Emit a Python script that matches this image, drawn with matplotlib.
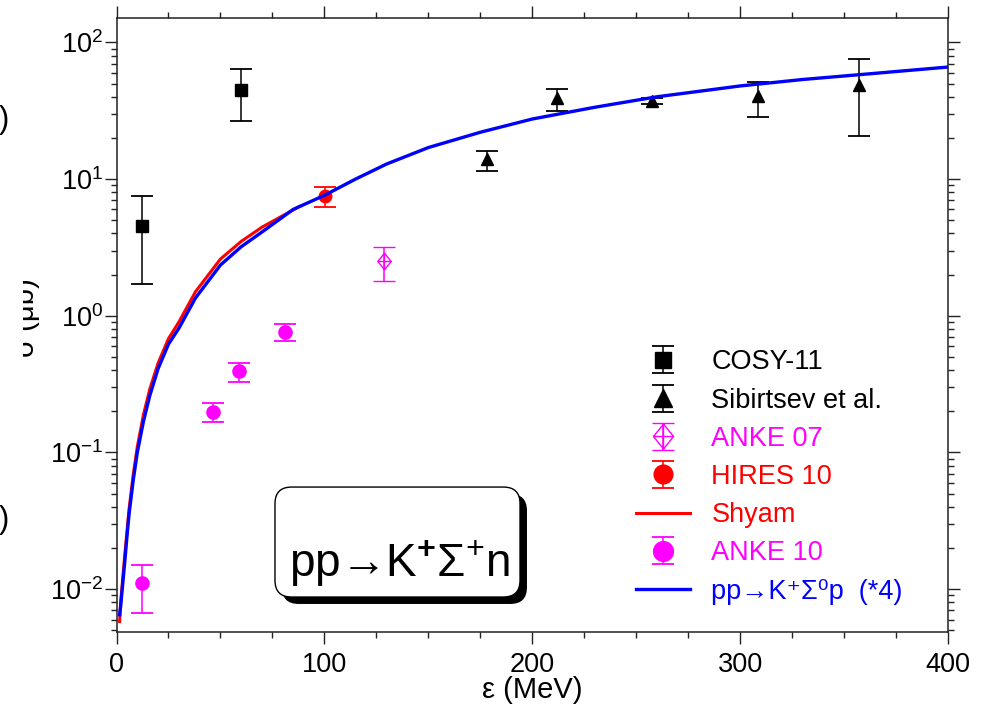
import matplotlib
matplotlib.use('Agg')
import matplotlib.pyplot as plt
import matplotlib.patheffects as pe
from matplotlib.patches import FancyBboxPatch
from matplotlib.path import Path
from matplotlib.ticker import LogLocator, LogFormatterMathtext, MultipleLocator, NullFormatter
from matplotlib.transforms import Bbox, TransformedBbox

plt.rcParams['font.family'] = ['Liberation Sans', 'DejaVu Sans']
plt.rcParams['mathtext.fontset'] = 'custom'
plt.rcParams['mathtext.rm'] = 'Liberation Sans'
plt.rcParams['mathtext.it'] = 'Liberation Sans:italic'
plt.rcParams['mathtext.bf'] = 'Liberation Sans:bold'

# values (eps in MeV, sigma in mub)
cosy_e = [12.4, 59.7]
cosy_s = [4.56, 44.9]
cosy_lo = [1.70, 26.4]
cosy_hi = [7.5, 63.8]

sib_e = [178.2, 212.0, 257.6, 308.6, 357.2]
sib_s = [14.0, 39.0, 37.3, 40.5, 48.9]
sib_lo = [11.5, 31.3, 35.5, 28.5, 20.8]
sib_hi = [16.1, 45.9, 39.0, 51.6, 75.5]

anke07_e = [128.8]
anke07_s = [2.5]
anke07_lo = [1.8]
anke07_hi = [3.2]

hires_e = [100.3]
hires_s = [7.55]
hires_lo = [6.3]
hires_hi = [8.8]

anke10_e = [12.4, 46.3, 59.1, 81.2]
anke10_s = [0.0111, 0.199, 0.394, 0.766]
anke10_lo = [0.0067, 0.167, 0.328, 0.652]
anke10_hi = [0.0151, 0.229, 0.45, 0.875]

shyam_e = [1.5, 2, 3, 4, 5, 6, 8, 10, 13, 16, 20, 25, 30, 38, 50, 60, 70, 80, 88]
shyam_s = [0.0058, 0.008, 0.012, 0.018, 0.026, 0.038, 0.068, 0.11, 0.19, 0.29,
           0.45, 0.68, 0.9, 1.5, 2.6, 3.5, 4.45, 5.4, 6.3]

sig0_e = [1.5, 2, 3, 4, 5, 6, 8, 10, 13, 16, 20, 25, 30, 38, 50, 60, 70, 85,
          100, 115, 130, 150, 175, 200, 230, 260, 300, 330, 360, 400]
sig0_s = [0.0065, 0.0075, 0.011, 0.016, 0.024, 0.035, 0.062, 0.1, 0.17, 0.26,
          0.41, 0.62, 0.81, 1.35, 2.35, 3.2, 4.1, 6.0, 7.6, 10.0, 12.9, 17.0,
          22.0, 27.5, 33.5, 40.0, 48.0, 53.5, 58.5, 66.0]

legend_labels = ['COSY-11', 'Sibirtsev et al.', 'ANKE 07', 'HIRES 10', 'Shyam',
                 'ANKE 10', 'pp→K⁺Σ⁰p  (*4)']
legend_colors = ['black', 'black', '#FF00FF', '#FF0000', '#FF0000', '#FF00FF', '#0000FF']


def yerr(s, lo, hi):
    return [[v - l for v, l in zip(s, lo)], [h - v for v, h in zip(s, hi)]]


# open diamond with a cross inside
dverts = [(0, 1), (0.8, 0), (0, -1), (-0.8, 0), (0, 1), (0, 1), (0, -1), (-0.8, 0), (0.8, 0)]
dcodes = [Path.MOVETO, Path.LINETO, Path.LINETO, Path.LINETO, Path.CLOSEPOLY,
          Path.MOVETO, Path.LINETO, Path.MOVETO, Path.LINETO]
diamond_cross = Path(dverts, dcodes)

fig = plt.figure(figsize=(9.84, 7.21), dpi=100)
ax = fig.add_axes([0.1184, 0.1241, 0.8450, 0.8516])

ebkw = dict(ls='none', elinewidth=1.1, capsize=8, capthick=1.3)

l_shyam, = ax.plot(shyam_e, shyam_s, color='#FF0000', lw=2.2, zorder=2)
l_sig0, = ax.plot(sig0_e, sig0_s, color='#0000FF', lw=2.4, zorder=3)

h_cosy = ax.errorbar(cosy_e, cosy_s, yerr=yerr(cosy_s, cosy_lo, cosy_hi), color='black',
                     marker='s', ms=8, **ebkw)
h_sib = ax.errorbar(sib_e, sib_s, yerr=yerr(sib_s, sib_lo, sib_hi), color='black',
                    marker='^', ms=9, **ebkw)
h_anke07 = ax.errorbar(anke07_e, anke07_s, yerr=yerr(anke07_s, anke07_lo, anke07_hi),
                       color='#FF00FF', marker=diamond_cross, ms=12, mfc='none', mew=1.0, **ebkw)
h_hires = ax.errorbar(hires_e, hires_s, yerr=yerr(hires_s, hires_lo, hires_hi), color='#FF0000',
                      marker='o', ms=9, **ebkw)
h_anke10 = ax.errorbar(anke10_e, anke10_s, yerr=yerr(anke10_s, anke10_lo, anke10_hi),
                       color='#FF00FF', marker='o', ms=9.5, **ebkw)

ax.set_yscale('log')
ax.set_xlim(0, 400)
ax.set_ylim(0.0049, 152)
ax.xaxis.set_major_locator(MultipleLocator(100))
ax.xaxis.set_minor_locator(MultipleLocator(25))
ax.yaxis.set_major_locator(LogLocator(base=10, numticks=10))
ax.yaxis.set_minor_locator(LogLocator(base=10, subs=range(2, 10), numticks=20))
ax.yaxis.set_major_formatter(LogFormatterMathtext())
ax.yaxis.set_minor_formatter(NullFormatter())

for sp in ax.spines.values():
    sp.set_linewidth(1.1)
    sp.set_color('#222222')
ax.tick_params(which='both', direction='out', top=True, right=True, labeltop=False,
               labelright=False, width=1.0, color='#222222', labelsize=19.5)
ax.tick_params(which='major', length=8.6)
ax.tick_params(which='minor', length=4.3)
ax.tick_params(axis='x', pad=6)
ax.tick_params(axis='y', pad=1)

ax.set_xlabel('ε (MeV)', fontsize=21, labelpad=-1)

leg = ax.legend([h_cosy, h_sib, h_anke07, h_hires, l_shyam, h_anke10, l_sig0], legend_labels,
                loc='upper left', bbox_to_anchor=(0.6248, 0.4595), frameon=False, fontsize=19.5,
                handlelength=2.0, handletextpad=0.78, labelspacing=0.45, borderpad=0,
                borderaxespad=0, markerscale=1.5, labelcolor=legend_colors)

# reaction label in a rounded box with a drop shadow
box = FancyBboxPatch((0.1906, 0.0562), 0.2947, 0.1791, transform=ax.transAxes,
                     boxstyle='round,pad=0,rounding_size=0.02', mutation_aspect=1.354,
                     fc='white', ec='black', lw=1.0, zorder=5)
box.set_path_effects([pe.SimplePatchShadow(offset=(5, -5), shadow_rgbFace='black', alpha=1.0),
                      pe.Normal()])
ax.add_patch(box)
ax.text(0.340, 0.088, r'pp→K$^{\mathbf{+}}$Σ$^{+}$n', transform=ax.transAxes, fontsize=33,
        ha='center', va='baseline', zorder=6)

# y label, cut off at the left edge as in the original
yl = fig.text(40 / 984, 1 - 318 / 721, 'σ (μb)', rotation=90, fontsize=21, ha='right', va='center')
yl.set_clip_box(TransformedBbox(Bbox([[23 / 984, 0], [1, 1]]), fig.transFigure))
yl.set_clip_on(True)
fig.text(9 / 984, 1 - 120 / 721, ')', fontsize=22, ha='right', va='center')
fig.text(9 / 984, 1 - 520 / 721, ')', fontsize=22, ha='right', va='center')

fig.savefig('out.png', dpi=100)
